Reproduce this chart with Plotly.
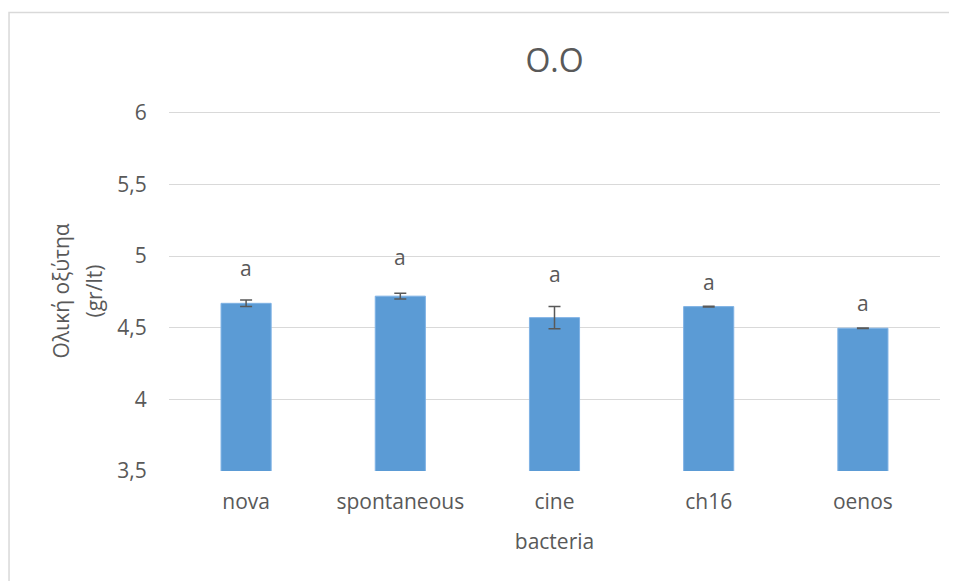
import plotly.graph_objects as go

categories = ["nova", "spontaneous", "cine", "ch16", "oenos"]
values = [4.67, 4.72, 4.57, 4.647, 4.496]
errors = [0.023, 0.02, 0.077, 0.003, 0.002]
letters = ["a", "a", "a", "a", "a"]
letter_y = [4.914, 4.99, 4.872, 4.816, 4.67]
y_ticks = [3.5, 4, 4.5, 5, 5.5, 6]
y_tick_text = ["3,5", "4", "4,5", "5", "5,5", "6"]
y_title_lines = ["Ολική οξύτηα", "(gr/lt)"]

FONT = "Open Sans"
TXT = "#595959"
FS = 21

fig = go.Figure()
fig.add_trace(go.Bar(
    x=categories, y=values,
    marker=dict(color="#5B9BD5", line=dict(color="#7FB2E5", width=1)),
    error_y=dict(type="data", array=errors, visible=True, color="#595959",
                 thickness=1.5, width=6),
    width=0.325,
))

for c, t, yy in zip(categories, letters, letter_y):
    fig.add_annotation(x=c, y=yy, text=t, showarrow=False,
                       font=dict(family=FONT, size=FS, color=TXT),
                       xanchor="center", yanchor="middle")

for line, xp in zip(y_title_lines, [-0.1401, -0.0973]):
    fig.add_annotation(xref="paper", yref="paper", x=xp, y=0.5,
                       text=line, textangle=-90, showarrow=False,
                       font=dict(family=FONT, size=FS, color=TXT),
                       xanchor="center", yanchor="middle")

fig.add_shape(type="rect", xref="paper", yref="paper",
              x0=-0.2075, x1=1.3, y0=-0.7, y1=1.27,
              line=dict(color="#D9D9D9", width=1.5), fillcolor="rgba(0,0,0,0)",
              layer="below")

fig.update_layout(
    width=949, height=573,
    margin=dict(l=161, r=17, t=102, b=110, autoexpand=False),
    paper_bgcolor="white", plot_bgcolor="white",
    showlegend=False,
    title=dict(text="O.O", x=0.5, xref="paper", y=0.908, yanchor="middle",
               font=dict(family=FONT, size=32, color=TXT)),
    xaxis=dict(
        tickfont=dict(family=FONT, size=FS, color=TXT),
        ticks="outside", ticklen=12, tickcolor="rgba(0,0,0,0)",
        showgrid=False, showline=False,
        title=dict(text="bacteria", font=dict(family=FONT, size=FS, color=TXT), standoff=20),
    ),
    yaxis=dict(
        range=[3.499, 6.02], tickvals=y_ticks, ticktext=y_tick_text,
        tickfont=dict(family=FONT, size=FS, color=TXT),
        ticks="outside", ticklen=17, tickcolor="rgba(0,0,0,0)",
        showgrid=True, gridcolor="#D9D9D9", gridwidth=1.3,
        zeroline=False, showline=False,
    ),
)

fig.write_html("out.html")
